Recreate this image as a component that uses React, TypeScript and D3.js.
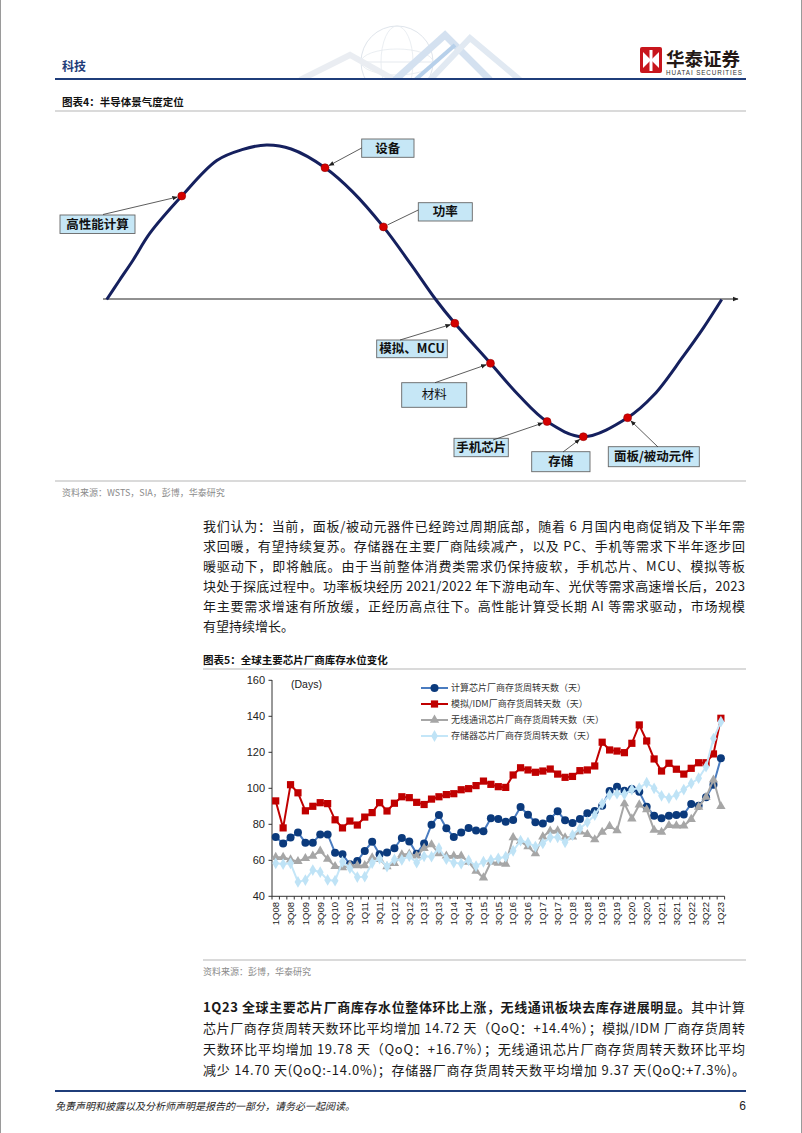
import React from 'react';
import * as d3 from 'd3';

const CJK = '"Noto Sans CJK SC", "Liberation Sans", sans-serif';
const LAT = '"Liberation Sans", Arial, "Noto Sans CJK SC", sans-serif';

// ---------- Figure 4: cycle diagram ----------
const cyclePhase = [0, 2, 4.3, 7, 12.2, 17.9, 22, 26, 30, 35.5, 40, 45, 49.5, 53.5, 56.6, 62.4, 67, 71.6, 77.5, 84.7, 89, 93.7, 97, 100];
const cycleLevel = [0, 12, 25.6, 42.8, 67, 90, 97, 100, 97.4, 85.3, 69.7, 47, 22.6, 0, -15.4, -41.3, -62, -79, -88.8, -76.5, -61.7, -37, -18.5, 0];

const stageNames = ['高性能计算', '设备', '功率', '模拟、MCU', '材料', '手机芯片', '存储', '面板/被动元件'];
const stagePhase = [12.2, 35.5, 45, 56.6, 62.4, 71.6, 77.5, 84.7];
const stageLevel = [67, 85.3, 47, -15.4, -41.3, -79, -88.8, -76.5];

// layout of the call-out boxes (x, y, w, h, anchorX, anchorY, bold, arrow)
const boxLayout = [
  [60, 215, 75, 18.5, 103, 214.5, true, true],
  [361.7, 139, 52.3, 18.3, 361.7, 148, true, true],
  [418.3, 202.7, 54, 18.3, 418.3, 210, true, false],
  [376.7, 340, 70.6, 17.7, 400, 340, true, true],
  [401.7, 382.7, 65, 24.6, 435, 382.7, false, true],
  [454, 438.3, 54.3, 18.4, 493, 440, true, true],
  [531.7, 451.7, 58.3, 20, 563, 452, true, true],
  [608.3, 446.7, 91, 20, 658, 447, true, true],
] as const;

// ---------- Figure 5: inventory days ----------
const seriesNames = [
  '计算芯片厂商存货周转天数（天）',
  '模拟/IDM厂商存货周转天数（天）',
  '无线通讯芯片厂商存货周转天数（天）',
  '存储器芯片厂商存货周转天数（天）',
];
const computeDays = [73, 69.4, 72.6, 75.5, 69.8, 69.8, 74.4, 74.4, 64.2, 63.3, 57.8, 59.6, 65.2, 70.3, 63.3, 64.4, 66.7, 72.4, 70.5, 63.7, 69.4, 79.8, 85.2, 77.8, 73, 75.4, 77.9, 76.6, 76.1, 83.3, 82.9, 81.4, 82.4, 89.6, 85.3, 81.1, 80.4, 83.1, 87.2, 82.2, 80.7, 82.9, 86.1, 87.4, 90.3, 98.5, 100.9, 98.7, 99.6, 98.1, 89.8, 84.8, 83.3, 84.8, 85.2, 85.5, 91.3, 90.3, 95, 102, 116.7];
const analogDays = [93, 78, 102, 97.5, 87.5, 90, 92, 91.5, 82.5, 78, 81.8, 79.6, 84, 86.5, 92, 87.4, 91.7, 95.3, 94.8, 92.2, 91, 94, 95.3, 96.5, 97, 99.2, 99.8, 101.5, 104, 102.2, 100.9, 100.5, 107.4, 111.4, 110.2, 108.9, 109.6, 110.7, 107.9, 106.1, 106.6, 109.8, 110.2, 112.4, 125.6, 121.3, 120.7, 119.8, 125, 135.2, 126.3, 116.3, 109.6, 113.9, 110.6, 107.9, 111.1, 114.2, 114.2, 119.1, 138.9];
const wirelessDays = [61.7, 61.7, 60.3, 59.4, 61.1, 62.4, 65.2, 60.7, 56.6, 56, 57.4, 57.1, 57.1, 61.5, 60.6, 56.5, 58.3, 63.2, 63.5, 62.5, 66.7, 68.7, 63.7, 62.5, 62.4, 62.4, 59, 54, 50.3, 59, 58.5, 57.9, 72.7, 70.5, 67.6, 63.7, 73.1, 76.3, 76.4, 72.6, 73.1, 75.9, 74.4, 71.5, 75.7, 78.9, 76.5, 91.5, 83.1, 90.9, 88.2, 76.8, 75.7, 79.4, 79.2, 79.2, 82.8, 89.6, 95.1, 104.7, 90];
const memoryDays = [58.3, 57.9, 58.3, 48, 49, 54.6, 53.4, 49.1, 48.7, 59.2, 55.6, 50.7, 50.9, 58.5, 61, 56.5, 60.5, 60.2, 62.3, 58.7, 62.2, 62, 66.7, 60.6, 58.7, 58.1, 60, 56.8, 59.2, 60.2, 61.1, 62, 65.3, 70.9, 69.8, 67.6, 69.4, 72.8, 72.8, 70, 74, 77.7, 81.2, 85.1, 91.5, 96.3, 97, 96.7, 99.3, 100.1, 103.1, 100, 95.8, 94.6, 96.3, 99.3, 102.7, 105.6, 112, 127.6, 137];
const yTicks = [40, 60, 80, 100, 120, 140, 160];
const quarters: string[] = [];
for (let yr = 8; yr <= 23; yr++) {
  for (let q = 1; q <= 4; q++) {
    if (yr === 23 && q > 1) break;
    quarters.push(`${q}Q${String(yr).padStart(2, '0')}`);
  }
}

// ---------- texts ----------
const para1 = [
  '我们认为：当前，面板/被动元器件已经跨过周期底部，随着 6 月国内电商促销及下半年需',
  '求回暖，有望持续复苏。存储器在主要厂商陆续减产，以及 PC、手机等需求下半年逐步回',
  '暖驱动下，即将触底。由于当前整体消费类需求仍保持疲软，手机芯片、MCU、模拟等板',
  '块处于探底过程中。功率板块经历 2021/2022 年下游电动车、光伏等需求高速增长后，2023',
  '年主要需求增速有所放缓，正经历高点往下。高性能计算受长期 AI 等需求驱动，市场规模',
  '有望持续增长。',
];
const para2Bold = '1Q23 全球主要芯片厂商库存水位整体环比上涨，无线通讯板块去库存进展明显。';
const para2 = [
  '其中计算',
  '芯片厂商存货周转天数环比平均增加 14.72 天（QoQ：+14.4%）；模拟/IDM 厂商存货周转',
  '天数环比平均增加 19.78 天（QoQ：+16.7%）；无线通讯芯片厂商存货周转天数环比平均',
  '减少 14.70 天(QoQ:-14.0%)；存储器厂商存货周转天数平均增加 9.37 天(QoQ:+7.3%)。',
];

const NAVY = '#0b3a7c';
const RED = '#c00000';
const GRAY = '#a6a6a6';
const LIGHT = '#bfe3f6';

function Marker({ kind, x, y }: { kind: number; x: number; y: number }) {
  if (kind === 0) return <circle cx={x} cy={y} r={4} fill={NAVY} />;
  if (kind === 1) return <rect x={x - 3.6} y={y - 3.6} width={7.2} height={7.2} fill={RED} />;
  if (kind === 2)
    return <path transform={`translate(${x},${y})`} d={d3.symbol(d3.symbolTriangle, 38)() || ''} fill={GRAY} />;
  return <path transform={`translate(${x},${y})`} d={d3.symbol(d3.symbolDiamond, 40)() || ''} fill={LIGHT} />;
}

export default function App() {
  // Figure 4 scales
  const px = d3.scaleLinear().domain([0, 100]).range([106.7, 721.7]);
  const py = d3.scaleLinear().domain([-100, 100]).range([454, 145]);
  const cycleLine = d3
    .line<number>()
    .x((_, i) => px(cyclePhase[i]))
    .y((d) => py(d))
    .curve(d3.curveCatmullRom.alpha(0.5));
  const cyclePath = cycleLine(cycleLevel) || '';

  // Figure 5 scales
  const xb = d3.scaleBand<string>().domain(quarters).range([272, 724.6]).padding(0);
  const cx = (q: string) => (xb(q) as number) + xb.bandwidth() / 2;
  const y = d3.scaleLinear().domain([40, 160]).range([896.3, 680.3]);
  const series = [computeDays, analogDays, wirelessDays, memoryDays];
  const lineColors = ['#4a7cc0', RED, GRAY, '#c4e6f8'];
  const drawOrder = [1, 0, 2, 3];
  const lineGen = d3
    .line<number>()
    .x((_, i) => cx(quarters[i]))
    .y((d) => y(d));

  return (
    <svg
      width={802}
      height={1133}
      style={{ position: 'absolute', left: 0, top: 0, background: '#fff' }}
      fontFamily={CJK}
    >
      <defs>
        <marker id="arr" viewBox="0 0 10 10" refX="9" refY="5" markerWidth="7" markerHeight="7" orient="auto">
          <path d="M0,1 L10,5 L0,9 z" fill="#222" />
        </marker>
        <marker id="axarr" viewBox="0 0 10 10" refX="9" refY="5" markerWidth="6" markerHeight="6" orient="auto">
          <path d="M0,1 L10,5 L0,9 z" fill="#222" />
        </marker>
        <clipPath id="hdr">
          <rect x={0} y={0} width={802} height={78} />
        </clipPath>
      </defs>
      <rect x={0} y={0} width={802} height={1133} fill="#fff" />
      <line x1={0.5} y1={0} x2={0.5} y2={1133} stroke="#9a9a9a" />
      <line x1={801.5} y1={0} x2={801.5} y2={1133} stroke="#9a9a9a" />

      {/* watermark */}
      <g clipPath="url(#hdr)" opacity={0.75}>
        <circle cx={397} cy={62} r={36} fill="none" stroke="#d6dde6" strokeWidth={1} />
        <ellipse cx={397} cy={62} rx={16} ry={36} fill="none" stroke="#dde3ea" strokeWidth={0.8} />
        <ellipse cx={397} cy={62} rx={36} ry={13} fill="none" stroke="#dde3ea" strokeWidth={0.8} />
        <line x1={361} y1={62} x2={433} y2={62} stroke="#dde3ea" />
        <path d="M300,80 L350,55 L395,80" fill="none" stroke="#e3e8ee" strokeWidth={6} />
        <path d="M395,80 L445,35 L490,80" fill="none" stroke="#c6d8ec" strokeWidth={7} />
        <path d="M430,80 L470,38 L520,80" fill="none" stroke="#d7e2ee" strokeWidth={6} />
        <path d="M415,80 L455,45" fill="none" stroke="#9fc1e4" strokeWidth={4} />
      </g>

      {/* header */}
      <text x={62} y={71} fontSize={12} fontWeight={700} fill="#1f3c78">科技</text>
      <g>
        <rect x={640} y={47} width={22} height={26} rx={2} fill="#c8161d" />
        <path d="M643,52 L651,60 L643,68 Z" fill="#fff" />
        <path d="M659,52 L651,60 L659,68 Z" fill="#fff" />
        <rect x={649.5} y={50} width={3} height={21} fill="#fff" />
        <text x={666} y={66} fontSize={18.5} fontWeight={700} fill="#231815">华泰证券</text>
        <text x={666} y={75} fontSize={6.3} fontFamily={LAT} fill="#333" textLength={76} lengthAdjust="spacing">HUATAI SECURITIES</text>
      </g>
      <line x1={55} y1={79} x2={746} y2={79} stroke="#1f3d7a" strokeWidth={2} />

      {/* Figure 4 */}
      <text x={62} y={106} fontSize={10.5} fontWeight={700} fill="#111">图表4：半导体景气度定位</text>
      <line x1={55} y1={111} x2={746} y2={111} stroke="#b5b5b5" strokeWidth={1} />
      <line x1={103} y1={299} x2={738} y2={299} stroke="#222" strokeWidth={1} markerEnd="url(#axarr)" />
      <path d={cyclePath} fill="none" stroke="#15205e" strokeWidth={3} />
      {stageNames.map((name, i) => {
        const [bx, by, bw, bh, ax, ay, bold, arrow] = boxLayout[i];
        const dx = px(stagePhase[i]);
        const dy = py(stageLevel[i]);
        const len = Math.hypot(dx - ax, dy - ay);
        const ex = dx - ((dx - ax) / len) * 4.5;
        const ey = dy - ((dy - ay) / len) * 4.5;
        return (
          <g key={name}>
            <rect x={bx} y={by} width={bw} height={bh} fill="#c6e7f6" stroke="#666" strokeWidth={0.9} />
            <text
              x={bx + bw / 2}
              y={by + bh / 2 + 4.4}
              textAnchor="middle"
              fontSize={12.5}
              fontWeight={bold ? 700 : 400}
              fill="#111"
            >
              {name}
            </text>
            <line
              x1={ax}
              y1={ay}
              x2={ex}
              y2={ey}
              stroke="#333"
              strokeWidth={0.8}
              markerEnd={arrow ? 'url(#arr)' : undefined}
            />
          </g>
        );
      })}
      {stageNames.map((name, i) => (
        <circle key={name + 'd'} cx={px(stagePhase[i])} cy={py(stageLevel[i])} r={4} fill="#d40000" stroke="#8a0000" strokeWidth={0.5} />
      ))}
      <line x1={55} y1={481} x2={746} y2={481} stroke="#b5b5b5" strokeWidth={1} />
      <text x={62} y={496} fontSize={9} fill="#8a8a8a">资料来源：WSTS，SIA，彭博，华泰研究</text>

      {/* paragraph 1 */}
      {para1.map((t, i) => (
        <text
          key={'p1' + i}
          x={203}
          y={531 + i * 20}
          fontSize={13}
          fill="#1a1a1a"
          textLength={i < para1.length - 1 ? 542 : undefined}
          lengthAdjust="spacing"
        >
          {t}
        </text>
      ))}

      {/* Figure 5 */}
      <text x={203} y={664} fontSize={10.5} fontWeight={700} fill="#111">图表5：全球主要芯片厂商库存水位变化</text>
      <line x1={203} y1={669} x2={746} y2={669} stroke="#b5b5b5" strokeWidth={1} />
      <g fontFamily={LAT}>
        <line x1={272} y1={680} x2={272} y2={896.3} stroke="#333" strokeWidth={1} />
        <line x1={272} y1={896.3} x2={724.6} y2={896.3} stroke="#333" strokeWidth={1} />
        {yTicks.map((t) => (
          <g key={'yt' + t}>
            <line x1={268.5} x2={272} y1={y(t)} y2={y(t)} stroke="#333" />
            <text x={265} y={y(t) + 4} textAnchor="end" fontSize={11} fill="#222">
              {t}
            </text>
          </g>
        ))}
        {quarters.map((q) => (
          <line key={'xt' + q} x1={xb(q)} x2={xb(q)} y1={896.3} y2={899.5} stroke="#333" />
        ))}
        <line x1={724.6} x2={724.6} y1={896.3} y2={899.5} stroke="#333" />
        {quarters.map((q, i) =>
          i % 2 === 0 ? (
            <text
              key={'xl' + q}
              transform={`translate(${cx(q) + 3.3},902) rotate(-90)`}
              textAnchor="end"
              fontSize={9.5}
              fill="#222"
            >
              {q}
            </text>
          ) : null
        )}
        <text x={291} y={688} fontSize={10.5} fill="#222">(Days)</text>
      </g>
      {drawOrder.map((s) => (
        <g key={'s' + s}>
          <path d={lineGen(series[s]) || ''} fill="none" stroke={lineColors[s]} strokeWidth={2} />
          {series[s].map((v, i) => (
            <Marker key={i} kind={s} x={cx(quarters[i])} y={y(v)} />
          ))}
        </g>
      ))}
      {seriesNames.map((n, i) => {
        const ly = 688 + i * 16;
        return (
          <g key={'lg' + i}>
            <line x1={421} x2={448} y1={ly} y2={ly} stroke={lineColors[i]} strokeWidth={2} />
            <Marker kind={i} x={434.5} y={ly} />
            <text x={451} y={ly + 3.3} fontSize={9} fill="#333">
              {n}
            </text>
          </g>
        );
      })}
      <line x1={203} y1={960} x2={746} y2={960} stroke="#b5b5b5" strokeWidth={1} />
      <text x={203} y={975} fontSize={9} fill="#8a8a8a">资料来源：彭博，华泰研究</text>

      {/* paragraph 2 */}
      <text x={203} y={1012} fontSize={13} fill="#1a1a1a" textLength={542} lengthAdjust="spacing">
        <tspan fontWeight={700}>{para2Bold}</tspan>
        <tspan>{para2[0]}</tspan>
      </text>
      {para2.slice(1).map((t, i) => (
        <text key={'p2' + i} x={203} y={1033 + i * 21} fontSize={13} fill="#1a1a1a" textLength={542} lengthAdjust="spacing">
          {t}
        </text>
      ))}

      {/* footer */}
      <line x1={55} y1={1091} x2={746} y2={1091} stroke="#1f3d7a" strokeWidth={2} />
      <text x={55} y={1110} fontSize={10} fontStyle="italic" fill="#222">免责声明和披露以及分析师声明是报告的一部分，请务必一起阅读。</text>
      <text x={746} y={1110} fontSize={12} textAnchor="end" fontFamily={LAT} fill="#222">6</text>
    </svg>
  );
}
